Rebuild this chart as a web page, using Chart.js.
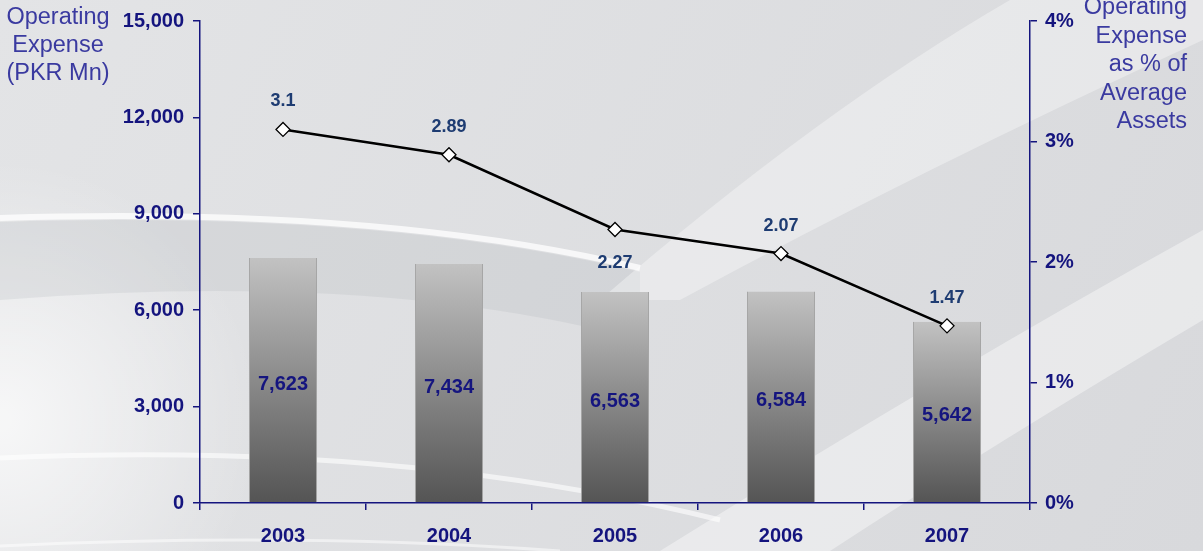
<!DOCTYPE html>
<html>
<head>
<meta charset="utf-8">
<script src="https://cdn.jsdelivr.net/npm/chart.js@4"></script>
<style>
  html, body { margin: 0; padding: 0; background: #dddee1; }
  #wrap { width: 1203px; height: 551px; }
</style>
</head>
<body>
<div id="wrap"><canvas id="chart" width="1203" height="551"></canvas></div>
<script>
const years = ['2003', '2004', '2005', '2006', '2007'];
const opexMn = [7623, 7434, 6563, 6584, 5642];
const opexPctAssets = [3.1, 2.89, 2.27, 2.07, 1.47];
const leftTicks = [0, 3000, 6000, 9000, 12000, 15000];
const rightTicks = [0, 1, 2, 3, 4];
const leftTitle = ['Operating', 'Expense', '(PKR Mn)'];
const rightTitle = ['Operating', 'Expense', 'as % of', 'Average', 'Assets'];

const navy = '#14147e';
const titleBlue = '#3a3aa0';

// background swooshes
const bgPlugin = {
  id: 'bg',
  beforeDraw(chart) {
    const c = chart.ctx;
    const w = chart.width, h = chart.height;
    c.save();
    let g = c.createLinearGradient(0, 0, w, h);
    g.addColorStop(0, '#e3e4e6');
    g.addColorStop(1, '#d8d9dc');
    c.fillStyle = g;
    c.fillRect(0, 0, w, h);

    // soft light glow on the left
    let r = c.createRadialGradient(0, 420, 10, 0, 420, 260);
    r.addColorStop(0, 'rgba(255,255,255,0.7)');
    r.addColorStop(1, 'rgba(255,255,255,0)');
    c.fillStyle = r;
    c.fillRect(0, 150, 300, 401);

    // slightly darker zone under the upper streak
    c.fillStyle = 'rgba(170,174,182,0.2)';
    c.beginPath();
    c.moveTo(0, 222);
    c.quadraticCurveTo(380, 210, 640, 272);
    c.lineTo(640, 340);
    c.quadraticCurveTo(380, 270, 0, 300);
    c.closePath();
    c.fill();

    // diagonal light band top-right
    c.fillStyle = 'rgba(255,255,255,0.35)';
    c.beginPath();
    c.moveTo(600, 300);
    c.quadraticCurveTo(820, 110, 1010, 0);
    c.lineTo(1203, 0);
    c.lineTo(1203, 40);
    c.quadraticCurveTo(920, 170, 680, 300);
    c.closePath();
    c.fill();

    // lower diagonal band
    c.fillStyle = 'rgba(255,255,255,0.4)';
    c.beginPath();
    c.moveTo(660, 551);
    c.quadraticCurveTo(950, 370, 1203, 230);
    c.lineTo(1203, 320);
    c.quadraticCurveTo(1000, 440, 830, 551);
    c.closePath();
    c.fill();

    // curved white streaks
    c.strokeStyle = 'rgba(255,255,255,0.75)';
    c.lineWidth = 6;
    c.beginPath();
    c.moveTo(0, 218);
    c.quadraticCurveTo(380, 206, 640, 268);
    c.stroke();
    c.strokeStyle = 'rgba(255,255,255,0.6)';
    c.lineWidth = 5;
    c.beginPath();
    c.moveTo(0, 458);
    c.quadraticCurveTo(400, 440, 720, 520);
    c.stroke();
    c.strokeStyle = 'rgba(255,255,255,0.5)';
    c.lineWidth = 3;
    c.beginPath();
    c.moveTo(0, 546);
    c.quadraticCurveTo(300, 532, 560, 551);
    c.stroke();
    c.restore();
  }
};

// titles and value labels
const textPlugin = {
  id: 'texts',
  afterDatasetsDraw(chart) {
    const c = chart.ctx;
    c.save();
    c.font = '23.5px Arial, "Liberation Sans", sans-serif';
    c.fillStyle = titleBlue;
    c.textBaseline = 'middle';
    c.textAlign = 'center';
    leftTitle.forEach((t, i) => c.fillText(t, 58, 18 + i * 28));
    c.textAlign = 'right';
    rightTitle.forEach((t, i) => c.fillText(t, 1187, 8 + i * 28.5));

    // bar values, centered in bars
    const bars = chart.getDatasetMeta(0).data;
    c.font = 'bold 20px Arial, "Liberation Sans", sans-serif';
    c.fillStyle = '#15157f';
    c.textAlign = 'center';
    bars.forEach((b, i) => {
      c.fillText(opexMn[i].toLocaleString('en-US'), b.x, (b.y + b.base) / 2 + 4);
    });

    // line values
    const pts = chart.getDatasetMeta(1).data;
    c.font = 'bold 18px Arial, "Liberation Sans", sans-serif';
    c.fillStyle = '#1e3c72';
    pts.forEach((p, i) => {
      const dy = i === 2 ? 34 : -28;
      c.fillText(String(opexPctAssets[i]), p.x, p.y + dy);
    });
    c.restore();
  }
};

function barGradient(context) {
  const chart = context.chart;
  const y = chart.scales.y;
  if (!y || context.dataIndex === undefined) return '#888';
  const top = y.getPixelForValue(opexMn[context.dataIndex]);
  const bottom = y.getPixelForValue(0);
  if (!isFinite(top) || !isFinite(bottom)) return '#888';
  const g = chart.ctx.createLinearGradient(0, top, 0, bottom);
  g.addColorStop(0, '#c2c2c2');
  g.addColorStop(0.5, '#8a8a8a');
  g.addColorStop(1, '#545454');
  return g;
}

const tickFont = { family: 'Arial, "Liberation Sans", sans-serif', size: 20, weight: 'bold' };

new Chart(document.getElementById('chart'), {
  data: {
    labels: years,
    datasets: [
      {
        type: 'bar',
        data: opexMn,
        yAxisID: 'y',
        backgroundColor: barGradient,
        borderColor: '#a5a5a5',
        borderWidth: { left: 1, right: 1, top: 0, bottom: 0 },
        barPercentage: 0.41,
        categoryPercentage: 1,
        order: 2
      },
      {
        type: 'line',
        data: opexPctAssets,
        yAxisID: 'y1',
        borderColor: '#000',
        borderWidth: 2.5,
        pointStyle: 'rectRot',
        pointRadius: 7,
        pointBackgroundColor: '#fff',
        pointBorderColor: '#000',
        pointBorderWidth: 1.3,
        tension: 0,
        order: 1
      }
    ]
  },
  options: {
    responsive: false,
    animation: false,
    layout: { padding: { top: 18, bottom: 0, left: 0, right: 0 } },
    plugins: { legend: { display: false }, tooltip: { enabled: false } },
    scales: {
      x: {
        grid: { display: true, drawOnChartArea: false, offset: true, tickLength: 7, color: navy, lineWidth: 1.5 },
        border: { color: navy, width: 1.5 },
        ticks: { color: navy, font: tickFont, padding: 14 },
        afterFit(s) { s.height = 48; }
      },
      y: {
        position: 'left',
        min: 0,
        max: 15000,
        afterBuildTicks(s) { s.ticks = leftTicks.map(v => ({ value: v })); },
        grid: { drawOnChartArea: false, tickLength: 7, color: navy, lineWidth: 1.5 },
        border: { color: navy, width: 1.5 },
        ticks: { color: navy, font: tickFont, padding: 9, callback: v => v.toLocaleString('en-US') },
        afterFit(s) { s.width = 200; }
      },
      y1: {
        position: 'right',
        min: 0,
        max: 4,
        afterBuildTicks(s) { s.ticks = rightTicks.map(v => ({ value: v })); },
        grid: { drawOnChartArea: false, tickLength: 7, color: navy, lineWidth: 1.5 },
        border: { color: navy, width: 1.5 },
        ticks: { color: navy, font: tickFont, padding: 8, callback: v => v + '%' },
        afterFit(s) { s.width = 173; }
      }
    }
  },
  plugins: [bgPlugin, textPlugin]
});
</script>
</body>
</html>
